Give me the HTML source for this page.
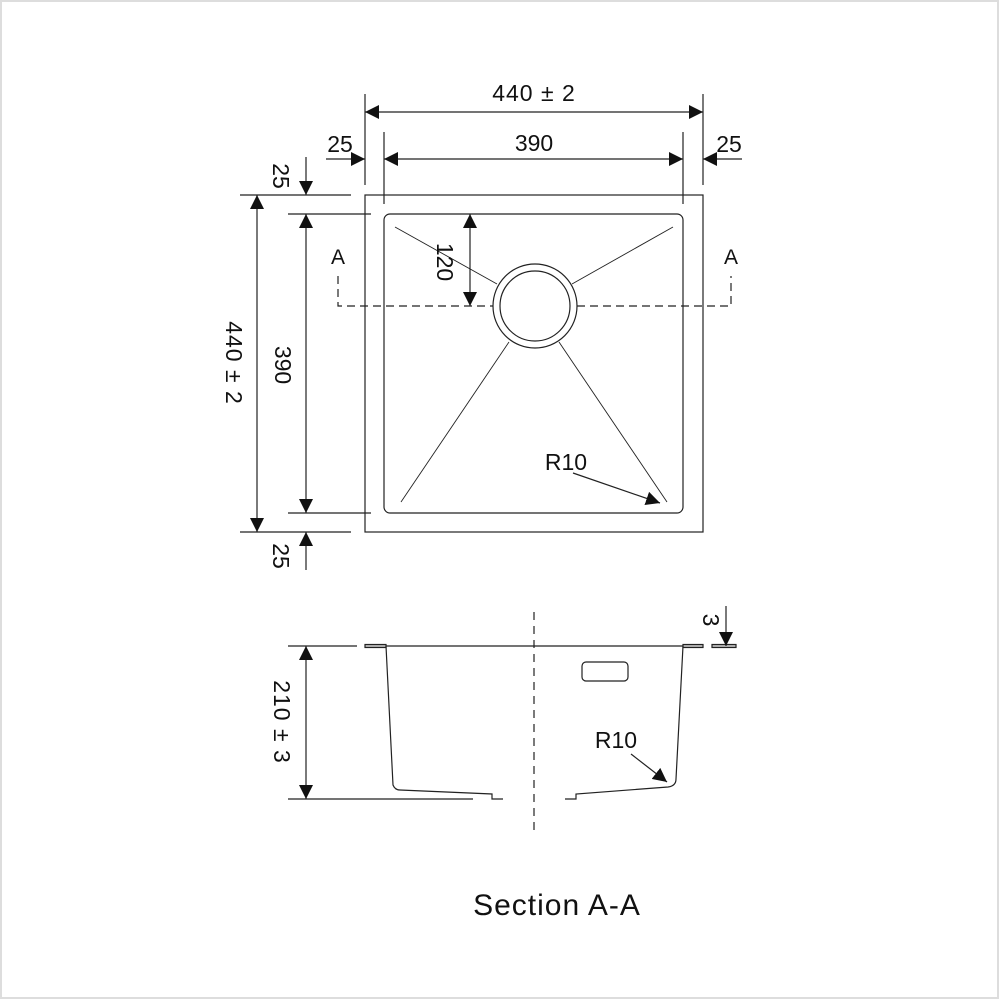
<!DOCTYPE html>
<html><head><meta charset="utf-8"><style>
html,body{margin:0;padding:0;background:#fff}
svg{display:block}
text{font-family:"Liberation Sans",sans-serif;fill:#111}
</style></head><body>
<svg width="999" height="999" viewBox="0 0 999 999" xmlns="http://www.w3.org/2000/svg">
<defs>
<marker id="a" viewBox="0 0 10 10" refX="10" refY="5" markerWidth="14" markerHeight="14" markerUnits="userSpaceOnUse" orient="auto-start-reverse"><path d="M0,0 L10,5 L0,10 z" fill="#111"/></marker>
</defs>
<rect x="1" y="1" width="997" height="997" fill="none" stroke="#ddd" stroke-width="2"/>
<g stroke="#222" stroke-width="1.2" fill="none">
<line x1="365" y1="94" x2="365" y2="185"/><line x1="703" y1="94" x2="703" y2="185"/>
<line x1="365" y1="112" x2="703" y2="112" marker-start="url(#a)" marker-end="url(#a)"/>
<line x1="384" y1="132" x2="384" y2="204"/><line x1="683" y1="132" x2="683" y2="204"/>
<line x1="384" y1="159" x2="683" y2="159" marker-start="url(#a)" marker-end="url(#a)"/>
<line x1="326" y1="159" x2="365" y2="159" marker-end="url(#a)"/>
<line x1="742" y1="159" x2="703" y2="159" marker-end="url(#a)"/>
<rect x="365" y="195" width="338" height="337"/>
<rect x="384" y="214" width="299" height="299" rx="6"/>
<line x1="240" y1="195" x2="351" y2="195"/><line x1="288" y1="214" x2="371" y2="214"/>
<line x1="288" y1="513" x2="371" y2="513"/><line x1="240" y1="532" x2="351" y2="532"/>
<line x1="306" y1="157" x2="306" y2="195" marker-end="url(#a)"/>
<line x1="306" y1="214" x2="306" y2="513" marker-start="url(#a)" marker-end="url(#a)"/>
<line x1="306" y1="570" x2="306" y2="532" marker-end="url(#a)"/>
<line x1="257" y1="195" x2="257" y2="532" marker-start="url(#a)" marker-end="url(#a)"/>
<circle cx="535" cy="306" r="42"/><circle cx="535" cy="306" r="35"/>
<line x1="395" y1="227" x2="497" y2="284" stroke-width="0.9"/>
<line x1="673" y1="227" x2="572" y2="284" stroke-width="0.9"/>
<line x1="401" y1="502" x2="509" y2="342" stroke-width="0.9"/>
<line x1="667" y1="502" x2="559" y2="342" stroke-width="0.9"/>
<line x1="470" y1="214" x2="470" y2="306" marker-start="url(#a)" marker-end="url(#a)"/>
<path d="M338,276 V306 H493 M577,306 H731 V276" stroke-dasharray="8,5"/>
<line x1="573" y1="473" x2="660" y2="503" marker-end="url(#a)"/>
<line x1="288" y1="646" x2="357" y2="646"/>
<line x1="288" y1="799" x2="473" y2="799"/>
<line x1="306" y1="646" x2="306" y2="799" marker-start="url(#a)" marker-end="url(#a)"/>
<rect x="365" y="644.5" width="21" height="3" fill="#bbb"/>
<rect x="683" y="644.5" width="20" height="3" fill="#bbb"/>
<rect x="712" y="644.5" width="24" height="3" fill="#bbb"/>
<line x1="386" y1="646" x2="683" y2="646"/>
<path d="M386,646 L393,785 Q395,790 400,790 L492,794 V799 H503"/>
<path d="M565,799 H576 V794 L668,787 Q676,786 676,779 L683,646"/>
<line x1="726" y1="606" x2="726" y2="646" marker-end="url(#a)"/>
<rect x="582" y="662" width="46" height="19" rx="4"/>
<line x1="534" y1="612" x2="534" y2="836" stroke-dasharray="8,6"/>
<line x1="631" y1="754" x2="667" y2="782" marker-end="url(#a)"/>
</g>
<g font-size="23">
<text x="534" y="101" text-anchor="middle" letter-spacing="1">440 ± 2</text>
<text x="534" y="151" text-anchor="middle">390</text>
<text x="340" y="152" text-anchor="middle">25</text>
<text x="729" y="152" text-anchor="middle">25</text>
<text x="338" y="264" text-anchor="middle" font-size="21">A</text>
<text x="731" y="264" text-anchor="middle" font-size="21">A</text>
<text x="566" y="470" text-anchor="middle">R10</text>
<text x="616" y="748" text-anchor="middle">R10</text>
<text transform="translate(273,176) rotate(90)" text-anchor="middle">25</text>
<text transform="translate(273,556) rotate(90)" text-anchor="middle">25</text>
<text transform="translate(226,363) rotate(90)" text-anchor="middle" letter-spacing="1">440 ± 2</text>
<text transform="translate(275,365) rotate(90)" text-anchor="middle">390</text>
<text transform="translate(437,262) rotate(90)" text-anchor="middle">120</text>
<text transform="translate(274,722) rotate(90)" text-anchor="middle" letter-spacing="1">210 ± 3</text>
<text transform="translate(703,620) rotate(90)" text-anchor="middle">3</text>
<text x="557" y="915" text-anchor="middle" font-size="30" letter-spacing="1">Section A-A</text>
</g>
</svg>
</body></html>
